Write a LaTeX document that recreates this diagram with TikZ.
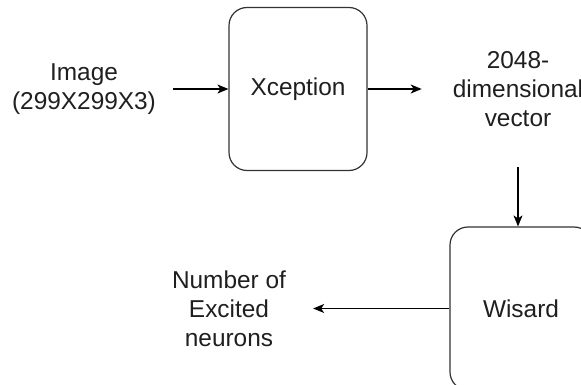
\documentclass[tikz,border=0pt]{standalone}
\usepackage{fontspec}
\setmainfont{Liberation Sans}
\usetikzlibrary{arrows.meta}
\begin{document}
\begin{tikzpicture}[x=1pt,y=-1pt,
  lbl/.style={align=center,inner sep=0pt,font=\fontsize{24.4}{29}\selectfont,text=black!88},
  blk/.style={draw=black!80,line width=1.2pt,rounded corners=18pt,minimum height=163pt,inner sep=0pt,font=\fontsize{24.4}{29}\selectfont,text=black!88},
  arr/.style={draw=black,line width=1.2pt,-{Stealth[length=11pt,width=9pt,inset=3pt]}}]
\useasboundingbox (0,0) rectangle (581,385);
\clip (0,0) rectangle (581,385);
\fill[white] (0,0) rectangle (581,385);
\node[lbl] (img) at (84,89) {Image\\(299X299X3)};
\node[blk,minimum width=138pt] (xc) at (298,89) {Xception};
\node[lbl] (vec) at (518,89.5) {2048-\\dimensional\\vector};
\node[blk,minimum width=142pt] (wis) at (521,308.5) {Wisard};
\node[lbl] (num) at (229,309) {Number of\\Excited\\neurons};
\draw[arr,shorten <=17pt] (img.east) -- (xc.west);
\draw[arr,shorten >=31pt] (xc.east) -- (xc.east -| vec.west);
\draw[arr,shorten <=40pt] (vec.south -| 518,0) -- (wis.north -| 518,0);
\draw[arr,shorten >=27pt] (wis.west) -- (wis.west -| num.east);
\end{tikzpicture}
\end{document}
